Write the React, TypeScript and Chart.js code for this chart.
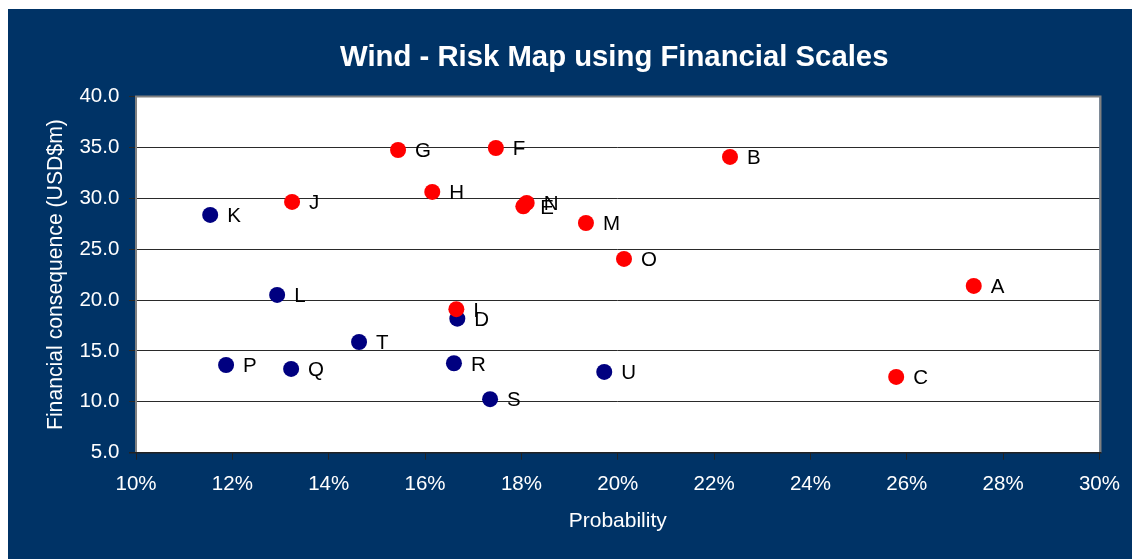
import React, { useEffect, useRef } from "react";
import { Chart, registerables } from "chart.js";

Chart.register(...registerables);

const chartTitle = "Wind - Risk Map using Financial Scales";
const xAxisTitle = "Probability";
const yAxisTitle = "Financial consequence (USD$m)";

// Red series (probability in %, consequence in USD$m)
const redLabels = ["A", "B", "C", "E", "F", "G", "H", "I", "J", "M", "N", "O"];
const redX = [27.39, 22.33, 25.78, 18.04, 17.47, 15.44, 16.15, 16.65, 13.24, 19.34, 18.11, 20.13];
const redY = [21.39, 34.06, 12.45, 29.21, 34.94, 34.74, 30.62, 19.1, 29.64, 27.57, 29.54, 24.04];

// Blue series
const blueLabels = ["D", "K", "L", "P", "Q", "R", "S", "T", "U"];
const blueX = [16.67, 11.54, 12.93, 11.87, 13.22, 16.6, 17.35, 14.63, 19.72];
const blueY = [18.17, 28.36, 20.5, 13.62, 13.23, 13.79, 10.26, 15.88, 12.94];

const xMin = 10;
const xMax = 30;
const xStep = 2;
const yMin = 5;
const yMax = 40;
const yStep = 5;

const FONT = "'Liberation Sans', Arial, Helvetica, sans-serif";
const NAVY = "#003366";

const labelsByDataset = [redLabels, blueLabels];

const decorPlugin = {
  id: "decor",
  beforeDraw(chart: any) {
    const { ctx, chartArea: a, width, height } = chart;
    ctx.save();
    ctx.fillStyle = NAVY;
    ctx.fillRect(0, 0, width, height);
    ctx.fillStyle = "#ffffff";
    ctx.fillRect(a.left, a.top, a.right - a.left, a.bottom - a.top);
    // chart title
    ctx.fillStyle = "#ffffff";
    ctx.font = `bold 29.3px ${FONT}`;
    ctx.textAlign = "center";
    ctx.textBaseline = "alphabetic";
    ctx.fillText(chartTitle, (a.left + a.right) / 2 - 3.5, 57);
    ctx.restore();
  },
  beforeDatasetsDraw(chart: any) {
    const { ctx, chartArea: a } = chart;
    ctx.save();
    ctx.strokeStyle = "#808080";
    ctx.lineWidth = 2;
    ctx.beginPath();
    ctx.moveTo(a.left, a.bottom);
    ctx.lineTo(a.left, a.top);
    ctx.lineTo(a.right + 1, a.top);
    ctx.lineTo(a.right + 1, a.bottom);
    ctx.stroke();
    ctx.strokeStyle = "#222222";
    ctx.lineWidth = 1.5;
    ctx.beginPath();
    ctx.moveTo(a.left - 7, a.bottom);
    ctx.lineTo(a.right + 2, a.bottom);
    ctx.stroke();
    ctx.restore();
  },
  afterDatasetsDraw(chart: any) {
    const { ctx } = chart;
    ctx.save();
    ctx.fillStyle = "#000000";
    ctx.font = `20.5px ${FONT}`;
    ctx.textAlign = "left";
    ctx.textBaseline = "alphabetic";
    chart.data.datasets.forEach((ds: any, i: number) => {
      const meta = chart.getDatasetMeta(i);
      const labels = labelsByDataset[i];
      meta.data.forEach((pt: any, j: number) => {
        ctx.fillText(labels[j], pt.x + 17, pt.y + 7.3);
      });
    });
    ctx.restore();
  },
};

export default function App() {
  const ref = useRef<HTMLCanvasElement | null>(null);

  useEffect(() => {
    document.documentElement.style.overflow = "hidden";
    const canvas = ref.current;
    if (!canvas) return;
    const chart = new Chart(canvas, {
      type: "scatter",
      data: {
        datasets: [
          {
            label: "Red",
            data: redX.map((x, i) => ({ x, y: redY[i] })),
            backgroundColor: "#ff0000",
            borderWidth: 0,
            pointRadius: 8,
            pointHoverRadius: 8,
          },
          {
            label: "Blue",
            data: blueX.map((x, i) => ({ x, y: blueY[i] })),
            backgroundColor: "#000080",
            borderWidth: 0,
            pointRadius: 8,
            pointHoverRadius: 8,
          },
        ],
      },
      options: {
        animation: false,
        responsive: false,
        devicePixelRatio: 1,
        layout: { padding: { left: 0, right: 32.5, top: 87.5, bottom: 0 } },
        plugins: {
          legend: { display: false },
          tooltip: { enabled: false },
          title: { display: false },
        },
        scales: {
          x: {
            type: "linear",
            min: xMin,
            max: xMax,
            afterFit: (s: any) => {
              s.height = 106.3;
            },
            border: { display: false },
            grid: {
              display: true,
              drawOnChartArea: false,
              drawTicks: true,
              tickLength: 7,
              color: "#222222",
              lineWidth: 1,
            },
            ticks: {
              stepSize: xStep,
              color: "#ffffff",
              font: { family: FONT, size: 20.5 },
              padding: 12,
              maxRotation: 0,
              callback: (v: any) => `${Math.round(Number(v))}%`,
            },
            title: {
              display: true,
              text: xAxisTitle,
              color: "#ffffff",
              font: { family: FONT, size: 21 },
              padding: { top: 0, bottom: 25.4 },
            },
          },
          y: {
            type: "linear",
            min: yMin,
            max: yMax,
            afterFit: (s: any) => {
              s.width = 128;
            },
            border: { display: false },
            grid: {
              display: true,
              drawOnChartArea: true,
              drawTicks: true,
              tickLength: 7,
              color: "#2a2a2a",
              lineWidth: 1,
            },
            ticks: {
              stepSize: yStep,
              color: "#ffffff",
              font: { family: FONT, size: 20.5 },
              padding: 9.7,
              callback: (v: any) => Number(v).toFixed(1),
            },
            title: {
              display: true,
              text: yAxisTitle,
              color: "#ffffff",
              font: { family: FONT, size: 21.2 },
              padding: { top: 35.6, bottom: 0 },
            },
          },
        },
      },
      plugins: [decorPlugin],
    });
    return () => chart.destroy();
  }, []);

  return (
    <div style={{ position: "fixed", left: 8, top: 9, width: 1124, height: 550 }}>
      <canvas ref={ref} width={1124} height={550} style={{ display: "block", width: 1124, height: 550 }} />
    </div>
  );
}
